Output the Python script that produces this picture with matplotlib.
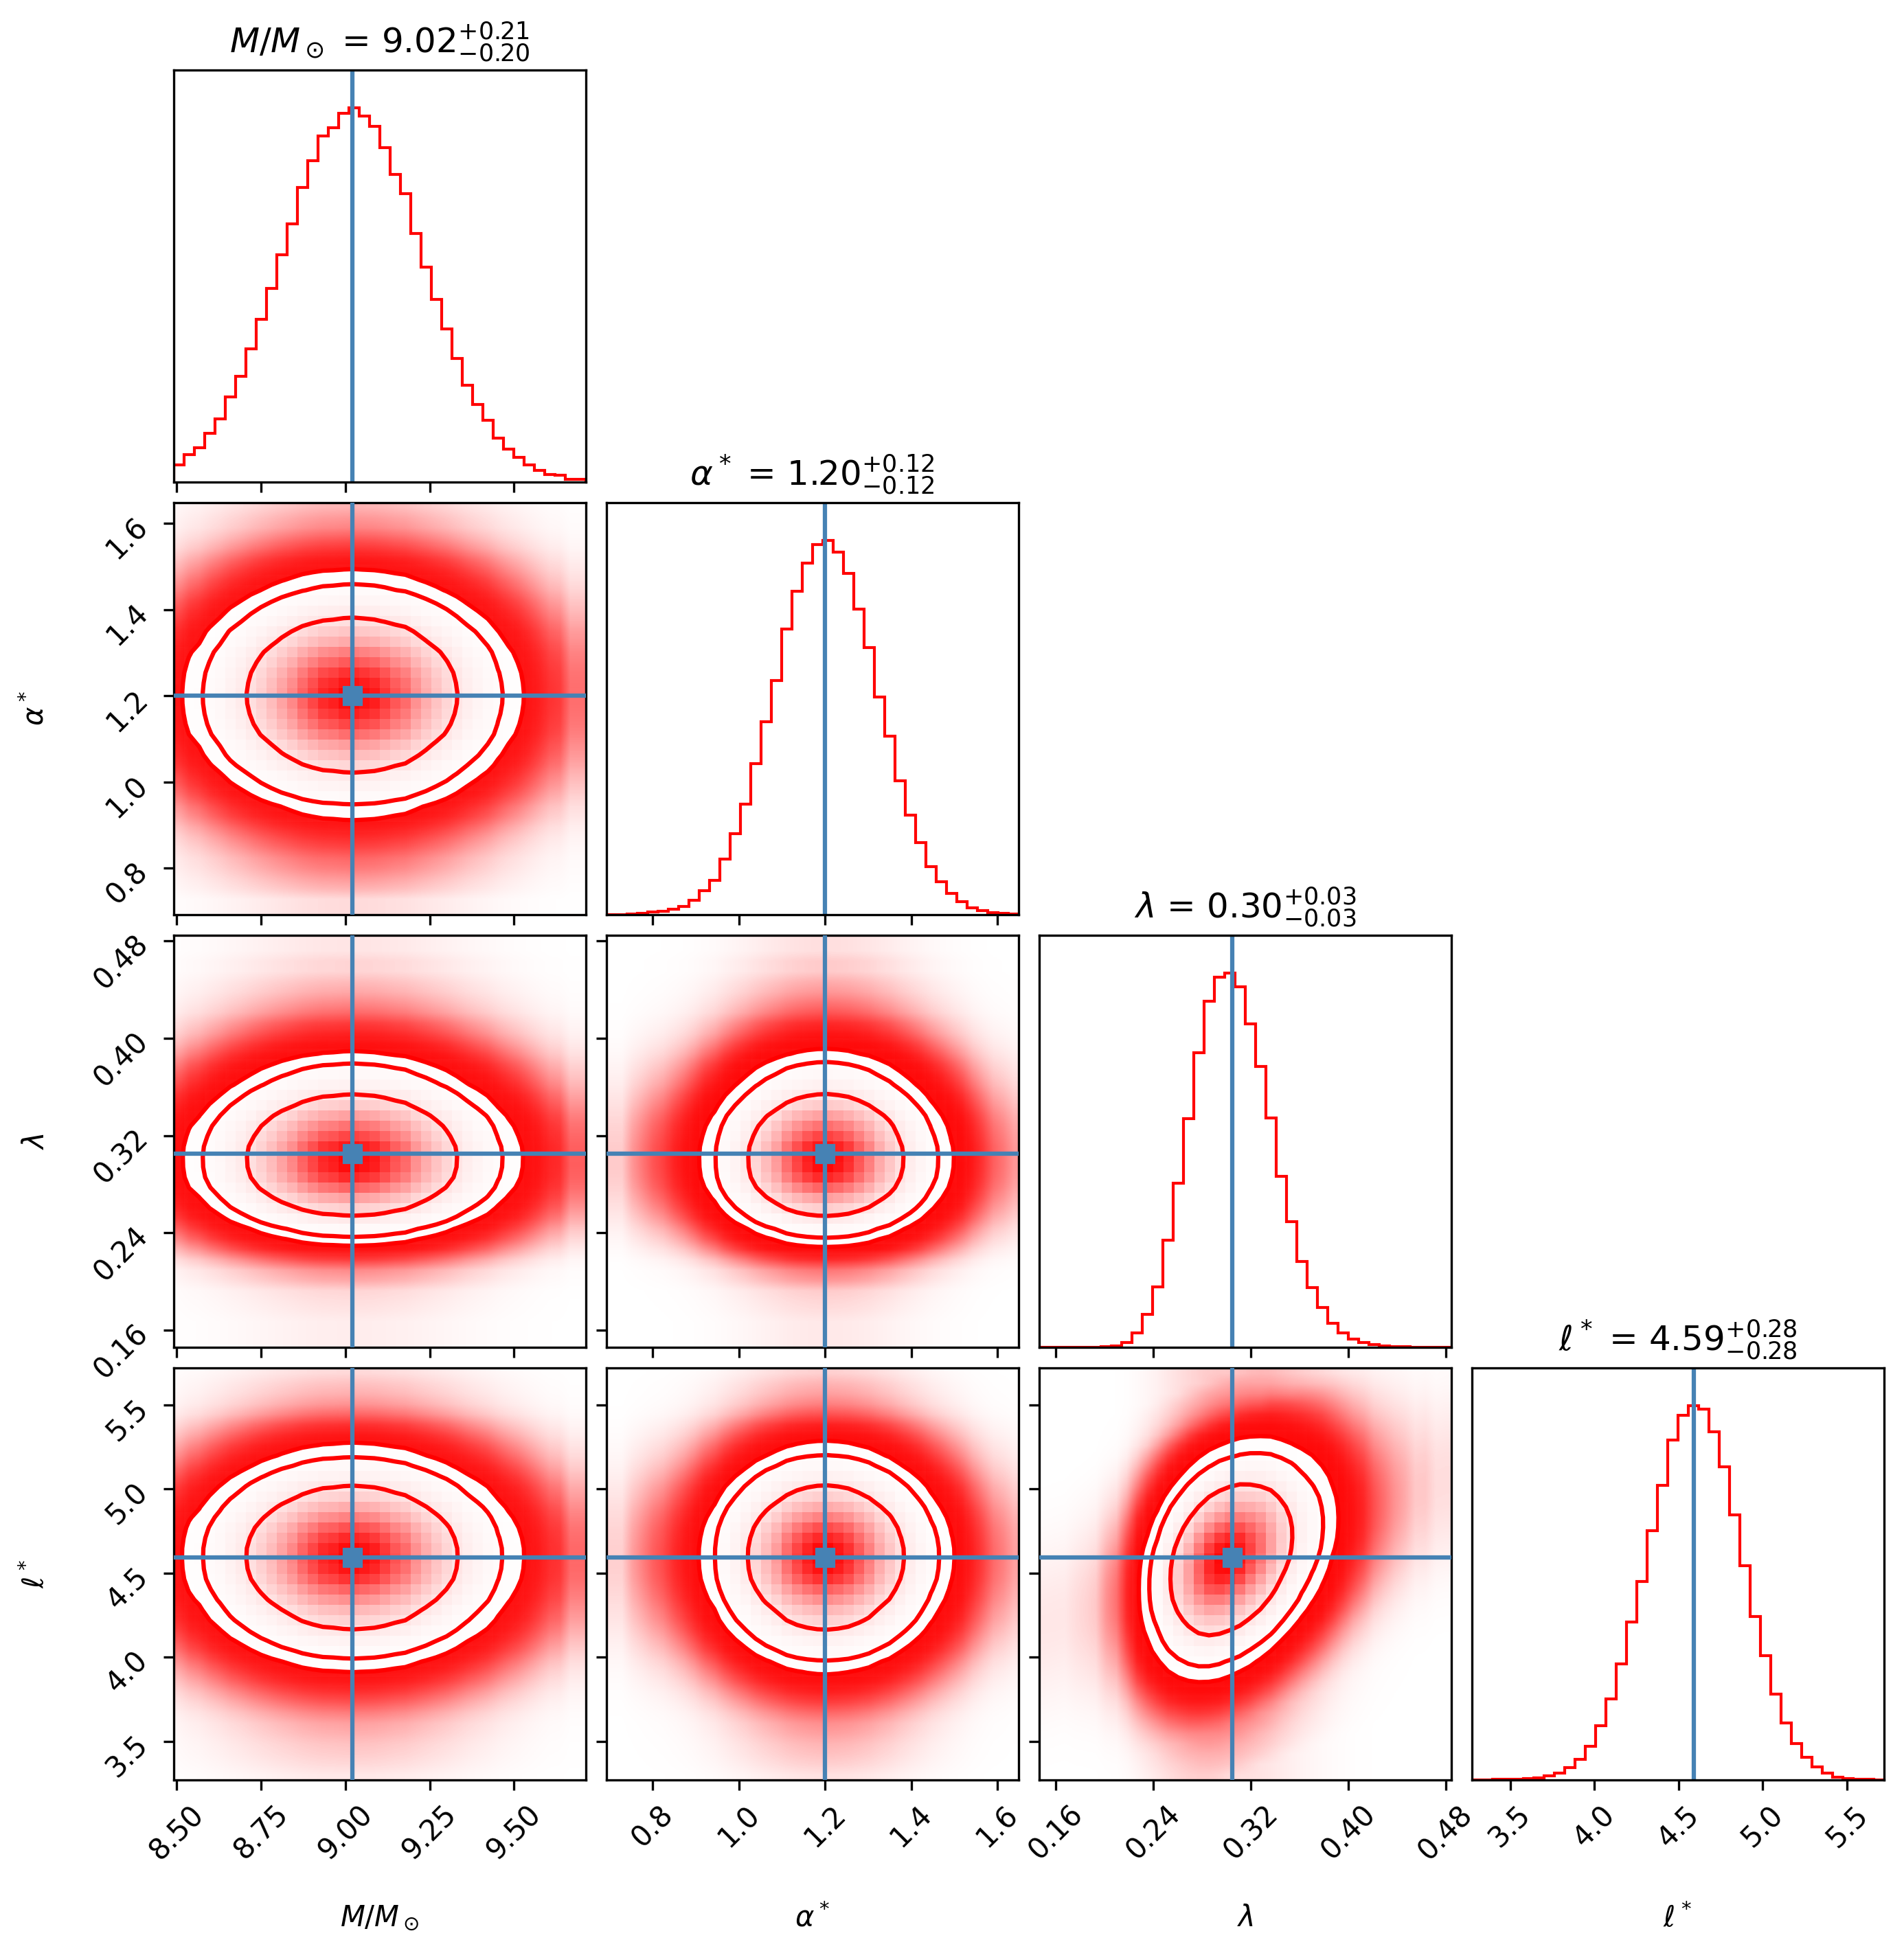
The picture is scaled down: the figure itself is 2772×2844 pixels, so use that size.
import numpy as np
import matplotlib
matplotlib.use("Agg")
import matplotlib.pyplot as plt
from matplotlib.colors import LinearSegmentedColormap

# ---------------- data ----------------
labels = [r"$M/M_\odot$", r"$\alpha^*$", r"$\lambda$", r"$\ell^*$"]
ranges = [(8.4907, 9.712), (0.6925, 1.648), (0.146, 0.4845), (3.271, 5.719)]
truths = [9.0215, 1.20, 0.305, 4.592]
medians = ["9.02", "1.20", "0.30", "4.59"]
err_hi = ["0.21", "0.12", "0.03", "0.28"]
err_lo = ["0.20", "0.12", "0.03", "0.28"]
tick_values = [[8.50, 8.75, 9.00, 9.25, 9.50],
               [0.8, 1.0, 1.2, 1.4, 1.6],
               [0.16, 0.24, 0.32, 0.40, 0.48],
               [3.5, 4.0, 4.5, 5.0, 5.5]]
tick_labels = [["8.50", "8.75", "9.00", "9.25", "9.50"],
               ["0.8", "1.0", "1.2", "1.4", "1.6"],
               ["0.16", "0.24", "0.32", "0.40", "0.48"],
               ["3.5", "4.0", "4.5", "5.0", "5.5"]]

# 1D histogram heights (40 bins each, arbitrary units)
hist_M = [53, 83, 105, 148, 194, 260, 323, 407, 498, 592, 694, 789, 900, 983,
          1059, 1084, 1128, 1145, 1118, 1088, 1022, 940, 881, 760, 656, 558,
          469, 378, 296, 238, 188, 135, 100, 75, 52, 35, 23, 20, 9, 9]
hist_alpha = [1, 1, 3, 5, 8, 11, 18, 28, 46, 78, 113, 181, 264, 360, 493, 630,
              765, 933, 1056, 1148, 1208, 1223, 1183, 1115, 997, 873, 710, 582,
              437, 326, 235, 157, 107, 69, 43, 23, 13, 7, 5, 3]
hist_lambda = [0.3, 0.3, 0.3, 0.5, 0.7, 1, 3, 5, 16, 48, 108, 198, 350, 536,
               746, 963, 1130, 1208, 1223, 1178, 1055, 918, 748, 558, 410, 281,
               196, 131, 78, 46, 26, 16, 8, 5, 3, 2, 1, 1, 0.5, 0.5]
hist_ell = [0.5, 1, 1.5, 2, 3, 4, 7, 13, 23, 41, 68, 110, 178, 265, 380, 515,
            648, 813, 963, 1110, 1191, 1223, 1210, 1136, 1023, 865, 700, 533,
            405, 280, 185, 118, 75, 43, 23, 10, 5, 3, 2, 1]
hists = [hist_M, hist_alpha, hist_lambda, hist_ell]

# slope of the conditional mean of row parameter vs column parameter
shear = {(3, 2): 2.6}
levels = [0.68, 0.90, 0.95]

# ---------------- styling ----------------
color = "red"
truth_color = "#4682b4"
K = 4
nb = 40
W, Hpx = 2772, 2844
dpi = 300
cloud_scale = 22000.0
cloud_gamma = 0.75

fig = plt.figure(figsize=(W / dpi, Hpx / dpi), dpi=dpi)


def rect(row, col):
    left = (252.6 + 630 * col) / W
    bottom = 1 - (102 + 630 * row + 600) / Hpx
    return [left, bottom, 600 / W, 600 / Hpx]


density_cmap = LinearSegmentedColormap.from_list("density", [color, (1, 1, 1, 0)])
cloud_cmap = LinearSegmentedColormap.from_list("cloud", [(1, 0, 0, 0), (1, 0, 0, 1)])


def density2d(ix, iy):
    px = np.asarray(hists[ix], float)
    py = np.asarray(hists[iy], float)
    xe = np.linspace(ranges[ix][0], ranges[ix][1], nb + 1)
    ye = np.linspace(ranges[iy][0], ranges[iy][1], nb + 1)
    xc = 0.5 * (xe[1:] + xe[:-1])
    yc = 0.5 * (ye[1:] + ye[:-1])
    b = shear.get((iy, ix), 0.0)
    H = np.empty((nb, nb))
    for j in range(nb):
        col = np.interp(yc - b * (xc[j] - truths[ix]), yc, py,
                        left=py[0], right=py[-1])
        H[:, j] = px[j] * col
    return xe, ye, xc, yc, H


def contour_levels(H):
    Hf = H.flatten()
    Hs = np.sort(Hf)[::-1]
    sm = np.cumsum(Hs)
    sm /= sm[-1]
    V = np.array([Hs[sm <= v0][-1] for v0 in levels])
    V.sort()
    return V


for i in range(K):
    for j in range(i + 1):
        ax = fig.add_axes(rect(i, j))
        ax.set_xlim(*ranges[j])
        if i == j:
            vals = np.asarray(hists[i], float)
            edges = np.linspace(ranges[i][0], ranges[i][1], nb + 1)
            ax.stairs(vals, edges, color=color, lw=1.0, baseline=0)
            ax.set_ylim(0, 1.1 * vals.max())
            ax.axvline(truths[i], color=truth_color, lw=1.5)
            ax.set_yticks([])
            ax.set_title(labels[i] + " = " + r"$%s_{-%s}^{+%s}$" % (medians[i], err_lo[i], err_hi[i]),
                         fontsize=12)
        else:
            ax.set_ylim(*ranges[i])
            xe, ye, xc, yc, H = density2d(j, i)
            P = H / H.sum()
            cloud = 1 - np.exp(-(cloud_scale * P) ** cloud_gamma)
            ax.imshow(cloud, extent=(xe[0], xe[-1], ye[0], ye[-1]), origin="lower",
                      cmap=cloud_cmap, vmin=0, vmax=1, aspect="auto",
                      interpolation="bilinear", zorder=0.5)
            V = contour_levels(H)
            ax.contourf(xc, yc, H, [V[0], H.max() * 1.01], colors=["white"],
                        antialiased=False, zorder=1)
            ax.pcolormesh(xe, ye, H.max() - H, cmap=density_cmap, zorder=2)
            ax.contour(xc, yc, H, V, colors=color, linewidths=1.5, zorder=3)
            ax.axvline(truths[j], color=truth_color, lw=1.5, zorder=5)
            ax.axhline(truths[i], color=truth_color, lw=1.5, zorder=5)
            ax.plot(truths[j], truths[i], "s", color=truth_color, zorder=6)
            ax.set_xlim(*ranges[j])
            ax.set_ylim(*ranges[i])
            ax.set_yticks(tick_values[i])
            if j == 0:
                ax.set_yticklabels(tick_labels[i], rotation=45)
                ax.set_ylabel(labels[i])
                ax.yaxis.set_label_coords(-0.3, 0.5)
            else:
                ax.set_yticklabels([])
        ax.set_xticks(tick_values[j])
        if i == K - 1:
            ax.set_xticklabels(tick_labels[j], rotation=45)
            ax.set_xlabel(labels[j])
            ax.xaxis.set_label_coords(0.5, -0.3)
        else:
            ax.set_xticklabels([])

fig.savefig("out.png", dpi=dpi)
